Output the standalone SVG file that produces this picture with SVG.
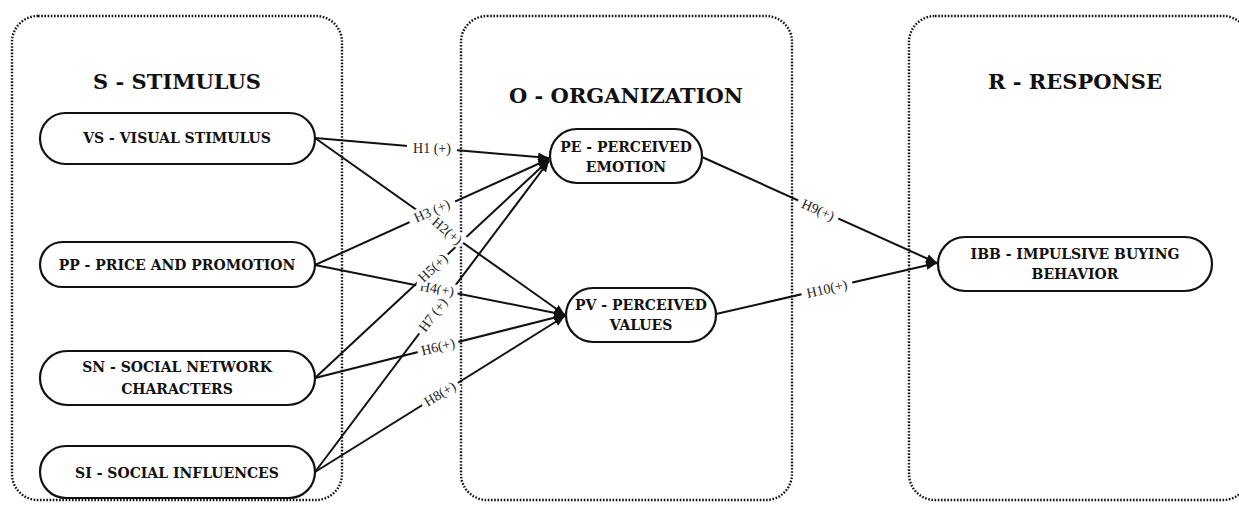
<svg xmlns="http://www.w3.org/2000/svg" width="1239" height="505" viewBox="0 0 1239 505">
<style>
.cont{fill:none;stroke:#111;stroke-width:2.4;stroke-dasharray:1.6 1.6}
.title{font-family:"DejaVu Serif",serif;font-weight:bold;font-size:21px;fill:#111;text-anchor:middle}
.node rect{fill:#fff;stroke:#111;stroke-width:2.2}
.node text{font-family:"DejaVu Serif",serif;font-weight:bold;font-size:14px;fill:#111;text-anchor:middle}
.conn line{stroke:#111;stroke-width:2}
.lbl rect{fill:#fff}
.lbl text{font-family:"Liberation Serif",serif;font-size:14px;fill:#222;text-anchor:middle}
</style>
<defs>
<marker id="ah" markerUnits="userSpaceOnUse" markerWidth="12" markerHeight="10" refX="11" refY="4.5" orient="auto">
<path d="M0,0 L11,4.5 L0,9 z" fill="#111"/>
</marker>
</defs>
<rect width="1239" height="505" fill="#fff"/>
<g id="containers">
<rect class="cont" x="12" y="16" width="330" height="484" rx="26"/>
<rect class="cont" x="461" y="16" width="331" height="484" rx="26"/>
<rect class="cont" x="909" y="16" width="340" height="484" rx="26"/>
<text class="title" x="177" y="89">S - STIMULUS</text>
<text class="title" x="626" y="103">O - ORGANIZATION</text>
<text class="title" x="1075" y="89">R - RESPONSE</text>
</g>
<g id="connectors" class="conn">
<line x1="315" y1="138" x2="549" y2="158" marker-end="url(#ah)"/>
<line x1="315" y1="138" x2="565" y2="315" marker-end="url(#ah)"/>
<line x1="315" y1="265" x2="549" y2="159" marker-end="url(#ah)"/>
<line x1="315" y1="265" x2="565" y2="315" marker-end="url(#ah)"/>
<line x1="315" y1="378" x2="549" y2="160" marker-end="url(#ah)"/>
<line x1="315" y1="378" x2="565" y2="315" marker-end="url(#ah)"/>
<line x1="315" y1="472" x2="549" y2="161" marker-end="url(#ah)"/>
<line x1="315" y1="472" x2="565" y2="316" marker-end="url(#ah)"/>
<line x1="702" y1="157" x2="937" y2="263" marker-end="url(#ah)"/>
<line x1="716" y1="314" x2="937" y2="263" marker-end="url(#ah)"/>
<g class="lbl">
<g transform="translate(432,148)"><rect x="-25" y="-8" width="50" height="15"/><text y="4.5">H1 (+)</text></g>
<g transform="translate(447,231) rotate(40)"><rect x="-20" y="-8" width="40" height="15"/><text y="4.5">H2(+)</text></g>
<g transform="translate(432,211) rotate(-24)"><rect x="-25" y="-8" width="50" height="15"/><text y="4.5">H3 (+)</text></g>
<g transform="translate(437,289) rotate(11)"><rect x="-21" y="-8" width="42" height="15"/><text y="4.5">H4(+)</text></g>
<g transform="translate(433,268) rotate(-43)"><rect x="-20" y="-8" width="40" height="15"/><text y="4.5">H5(+)</text></g>
<g transform="translate(438,347) rotate(-14)"><rect x="-21" y="-8" width="42" height="15"/><text y="4.5">H6(+)</text></g>
<g transform="translate(433,315) rotate(-53)"><rect x="-23" y="-8" width="46" height="15"/><text y="4.5">H7 (+)</text></g>
<g transform="translate(440,394) rotate(-32)"><rect x="-21" y="-8" width="42" height="15"/><text y="4.5">H8(+)</text></g>
<g transform="translate(818,210) rotate(24)"><rect x="-22" y="-8" width="44" height="15"/><text y="4.5">H9(+)</text></g>
<g transform="translate(827,289) rotate(-13)"><rect x="-26" y="-8" width="52" height="15"/><text y="4.5">H10(+)</text></g>
</g>
</g>
<g id="VS" class="node"><rect x="40" y="113" width="275" height="51" rx="25.5"/><text x="177" y="143">VS - VISUAL STIMULUS</text></g>
<g id="PP" class="node"><rect x="40" y="242" width="275" height="45" rx="22.5"/><text x="177" y="270">PP - PRICE AND PROMOTION</text></g>
<g id="SN" class="node"><rect x="40" y="351" width="275" height="54" rx="27"/><text x="177" y="372">SN - SOCIAL NETWORK</text><text x="177" y="394">CHARACTERS</text></g>
<g id="SI" class="node"><rect x="40" y="446" width="275" height="52" rx="26"/><text x="177" y="478">SI - SOCIAL INFLUENCES</text></g>
<g id="PE" class="node"><rect x="550" y="129" width="152" height="54" rx="27"/><text x="626" y="152">PE - PERCEIVED</text><text x="626" y="172">EMOTION</text></g>
<g id="PV" class="node"><rect x="566" y="288" width="150" height="54" rx="27"/><text x="641" y="310">PV - PERCEIVED</text><text x="641" y="330">VALUES</text></g>
<g id="IBB" class="node"><rect x="938" y="237" width="274" height="54" rx="27"/><text x="1075" y="259">IBB - IMPULSIVE BUYING</text><text x="1075" y="279">BEHAVIOR</text></g>
</svg>
